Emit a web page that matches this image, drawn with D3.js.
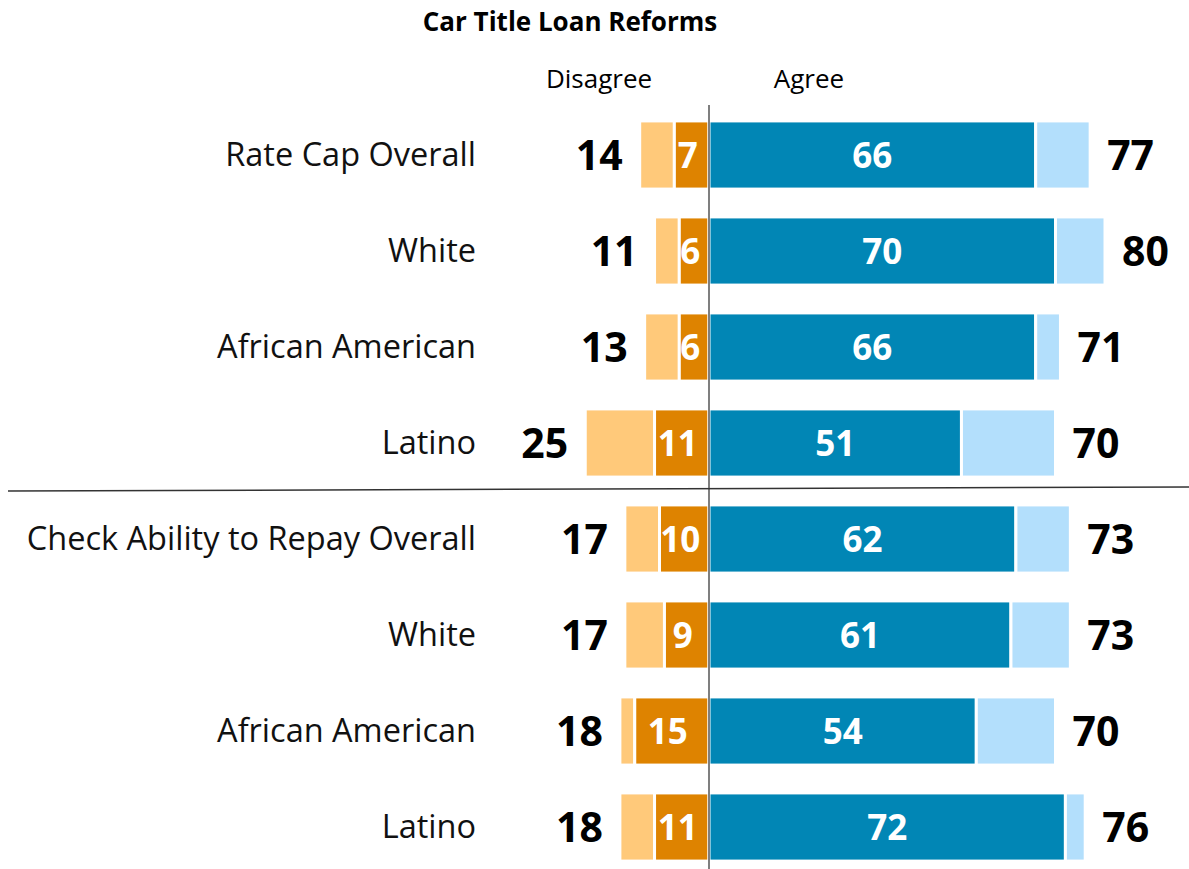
<!DOCTYPE html>
<html>
<head>
<meta charset="utf-8">
<script src="https://cdn.jsdelivr.net/npm/d3@7"></script>
<style>
  html, body { margin: 0; padding: 0; background: #fff; }
  svg { display: block; }
  text { font-family: "Open Sans", Lato, sans-serif; }
</style>
</head>
<body>
<svg id="chart" width="1189" height="869"></svg>
<script>
// Survey results: car title loan reforms, agree / disagree shares (%)
const categories = [
  "Rate Cap Overall", "White", "African American", "Latino",
  "Check Ability to Repay Overall", "White", "African American", "Latino"
];
const strongDisagree = [7, 6, 6, 11, 10, 9, 15, 11];
const totalDisagree  = [14, 11, 13, 25, 17, 17, 18, 18];
const strongAgree    = [66, 70, 66, 51, 62, 61, 54, 72];
const totalAgree     = [77, 80, 71, 70, 73, 73, 70, 76];
const title = "Car Title Loan Reforms";
const sideLabels = ["Disagree", "Agree"];

const colors = {
  lightOrange: "#FFC97A",
  darkOrange: "#DE8300",
  darkBlue: "#0186B5",
  lightBlue: "#B3DFFC"
};

const svg = d3.select("#chart");

const x = d3.scaleLinear()
  .domain([-30, 90])
  .range([709 - 30 * 4.95, 709 + 90 * 4.95]);

const y = d3.scaleBand()
  .domain(d3.range(categories.length))
  .range([107, 875])
  .paddingInner(0.29)
  .paddingOuter(0.145);

const rows = categories.map((c, i) => ({
  i, label: c,
  sd: strongDisagree[i], td: totalDisagree[i],
  sa: strongAgree[i], ta: totalAgree[i]
}));

const mid = d => y(d.i) + y.bandwidth() / 2;

// Title and side headers
svg.append("text")
  .attr("x", 570).attr("y", 31)
  .attr("text-anchor", "middle")
  .attr("font-size", 26).attr("font-weight", 700)
  .text(title);

svg.append("text")
  .attr("x", 599).attr("y", 88)
  .attr("text-anchor", "middle")
  .attr("font-size", 26)
  .text(sideLabels[0]);

svg.append("text")
  .attr("x", 809).attr("y", 88)
  .attr("text-anchor", "middle")
  .attr("font-size", 26)
  .text(sideLabels[1]);

// Stacked segments per row
const segs = [];
rows.forEach(r => {
  segs.push({ i: r.i, x0: -r.td, x1: -r.sd, fill: colors.lightOrange });
  segs.push({ i: r.i, x0: -r.sd, x1: 0, fill: colors.darkOrange });
  segs.push({ i: r.i, x0: 0, x1: r.sa, fill: colors.darkBlue });
  segs.push({ i: r.i, x0: r.sa, x1: r.ta, fill: colors.lightBlue });
});

svg.append("g")
  .selectAll("rect")
  .data(segs)
  .join("rect")
  .attr("x", d => x(d.x0))
  .attr("width", d => x(d.x1) - x(d.x0))
  .attr("y", d => y(d.i))
  .attr("height", y.bandwidth())
  .attr("fill", d => d.fill)
  .attr("stroke", "#fff")
  .attr("stroke-width", 3);

// Category labels
svg.append("g")
  .selectAll("text")
  .data(rows)
  .join("text")
  .attr("x", 476)
  .attr("y", mid)
  .attr("dy", "0.34em")
  .attr("text-anchor", "end")
  .attr("font-size", 32.5)
  .attr("fill", "#111")
  .text(d => d.label);

// Totals outside the bars
svg.append("g")
  .selectAll("text")
  .data(rows)
  .join("text")
  .attr("x", d => x(-d.td) - 17)
  .attr("y", mid)
  .attr("dy", "0.36em")
  .attr("text-anchor", "end")
  .attr("font-size", 41).attr("font-weight", 700)
  .text(d => d.td);

svg.append("g")
  .selectAll("text")
  .data(rows)
  .join("text")
  .attr("x", d => x(d.ta) + 17)
  .attr("y", mid)
  .attr("dy", "0.36em")
  .attr("text-anchor", "start")
  .attr("font-size", 41).attr("font-weight", 700)
  .text(d => d.ta);

// Strong shares inside the bars
svg.append("g")
  .selectAll("text")
  .data(rows)
  .join("text")
  .attr("x", d => x(-d.sd / 2) - 4)
  .attr("y", mid)
  .attr("dy", "0.36em")
  .attr("text-anchor", "middle")
  .attr("font-size", 35).attr("font-weight", 700)
  .attr("fill", "#fff")
  .text(d => d.sd);

svg.append("g")
  .selectAll("text")
  .data(rows)
  .join("text")
  .attr("x", d => x(d.sa / 2))
  .attr("y", mid)
  .attr("dy", "0.36em")
  .attr("text-anchor", "middle")
  .attr("font-size", 35).attr("font-weight", 700)
  .attr("fill", "#fff")
  .text(d => d.sa);

// Zero line
svg.append("line")
  .attr("x1", x(0)).attr("x2", x(0))
  .attr("y1", 105).attr("y2", 869)
  .attr("stroke", "#555").attr("stroke-width", 1.5);

// Divider between the two reform groups
svg.append("line")
  .attr("x1", 8).attr("y1", 491)
  .attr("x2", 1189).attr("y2", 487)
  .attr("stroke", "#333").attr("stroke-width", 1.5);
</script>
</body>
</html>
